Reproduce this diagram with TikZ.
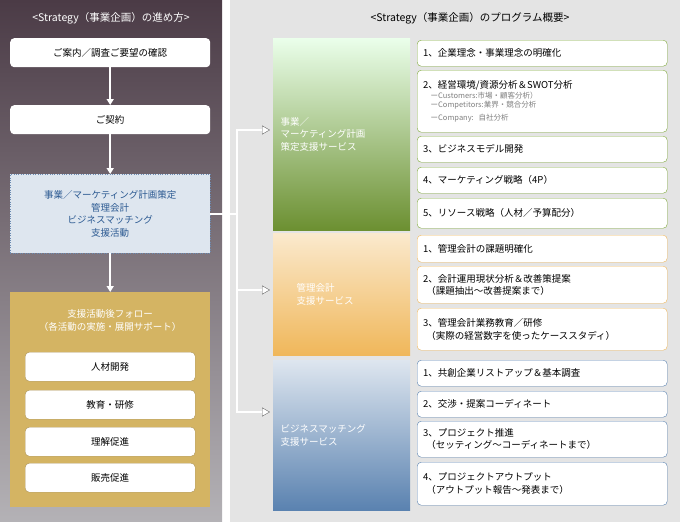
\documentclass[tikz,border=0pt]{standalone}
\usepackage{fontspec}
\setmainfont{Noto Sans CJK JP}
\usetikzlibrary{arrows.meta,shadings}
\definecolor{panelTop}{HTML}{4B3B46}
\definecolor{panelBot}{HTML}{B4B2B6}
\definecolor{greyBg}{HTML}{E4E4E4}
\definecolor{blueTxt}{HTML}{2C5A92}
\definecolor{blueFill}{HTML}{DEE6EF}
\definecolor{goldFill}{HTML}{D4B463}
\definecolor{greenLine}{HTML}{7FA93A}
\definecolor{orangeLine}{HTML}{F0B75A}
\definecolor{blueLine}{HTML}{5A82B0}
\tikzset{%
  >={Latex[width=2mm,length=2mm]},
  % Specifications for style of nodes:
  base/.style = {
    rectangle,
    rounded corners=4pt,
    text centered,
    font=\fontsize{9.5}{12.5}\selectfont
  },
  stepbox/.style = {base, fill=white, minimum width=200pt, minimum height=29pt, anchor=north west},
  followbox/.style = {base, fill=white, draw=goldFill!80!black, minimum width=170pt, minimum height=29pt, anchor=north west},
  item/.style = {base, fill=white, align=left, text width=238pt, minimum width=250pt, anchor=north west, inner xsep=6pt},
  greenItem/.style = {item, draw=greenLine},
  orangeItem/.style = {item, draw=orangeLine},
  blueItem/.style = {item, draw=blueLine},
  category/.style = {rectangle, minimum width=137pt, anchor=north west, text=white, align=left,
    text width=122pt, font=\fontsize{9.5}{12.5}\selectfont},
  downArrow/.style = {white, line width=1.5pt, -{Triangle[width=7pt,length=6pt]}},
}
\begin{document}
\begin{tikzpicture}[x=1pt, y=-1pt]
  % backgrounds
  \fill[top color=panelTop, bottom color=panelBot] (0,0) rectangle (222,522);
  \fill[greyBg] (230,0) rectangle (680,522);
  \useasboundingbox (0,0) rectangle (680,522);
  % titles
  \node (leftTitle) [text=white, font=\fontsize{10.5}{12}\selectfont] at (111,18) {<Strategy（事業企画）の進め方>};
  \node (rightTitle) [font=\fontsize{10.5}{12}\selectfont] at (470,18) {<Strategy（事業企画）のプログラム概要>};
  % process steps
  \node (confirm) [stepbox] at (10,38) {ご案内／調査ご要望の確認};
  \node (contract) [stepbox] at (10,105) {ご契約};
  \node (support) [stepbox, rounded corners=0pt, fill=blueFill, draw=blueTxt!70, dotted,
    minimum height=79pt, text=blueTxt, align=center] at (10,174)
    {事業／マーケティング計画策定\\管理会計\\ビジネスマッチング\\支援活動};
  \node (follow) [rectangle, fill=goldFill, minimum width=200pt, minimum height=215pt, anchor=north west] at (10,292) {};
  \node (followTitle) [text=white, align=center, font=\fontsize{9.5}{13}\selectfont] at (110,320)
    {支援活動後フォロー\\（各活動の実施・展開サポート）};
  \node (hr) [followbox] at (25,352) {人材開発};
  \node (edu) [followbox] at (25,390) {教育・研修};
  \node (promo) [followbox] at (25,427) {理解促進};
  \node (sales) [followbox] at (25,463) {販売促進};
  \draw[downArrow] (confirm) -- (contract);
  \draw[downArrow] (contract) -- (support);
  \draw[downArrow] (support) -- (follow);
  % categories
  \fill[top color=green!8!white, bottom color=greenLine!85!black] (273,38) rectangle (410,230);
  \node (bizCat) [category, minimum height=192pt] at (273,38) {事業／\\マーケティング計画\\策定支援サービス};
  \fill[top color=orangeLine!30!white, bottom color=orangeLine] (273,233) rectangle (410,355);
  \node (accCat) [category, minimum height=122pt] at (273,233) {\hspace*{16pt}管理会計\\\hspace*{16pt}支援サービス};
  \fill[top color=blueLine!20!white, bottom color=blueLine] (273,360) rectangle (410,510);
  \node (matchCat) [category, minimum height=150pt] at (273,360) {ビジネスマッチング\\支援サービス};
  % business items
  \node (b1) [greenItem, minimum height=26pt] at (417,40) {1、企業理念・事業理念の明確化};
  \node (b2) [greenItem, minimum height=62pt] at (417,70) {2、経営環境/資源分析＆SWOT分析\\
    {\fontsize{7.5}{9.5}\selectfont\color{gray}\quad ーCustomers:市場・顧客分析）\\
    \quad ーCompetitors:業界・競合分析\\\quad ーCompany: 自社分析}};
  \node (b3) [greenItem, minimum height=26pt] at (417,136) {3、ビジネスモデル開発};
  \node (b4) [greenItem, minimum height=26pt] at (417,167) {4、マーケティング戦略（4P）};
  \node (b5) [greenItem, minimum height=30pt] at (417,198) {5、リソース戦略（人材／予算配分）};
  % accounting items
  \node (a1) [orangeItem, minimum height=27pt] at (417,235) {1、管理会計の課題明確化};
  \node (a2) [orangeItem, minimum height=37pt] at (417,266) {2、会計運用現状分析＆改善策提案\\\ （課題抽出～改善提案まで）};
  \node (a3) [orangeItem, minimum height=42pt] at (417,308) {3、管理会計業務教育／研修\\\ （実際の経営数字を使ったケーススタディ）};
  % matching items
  \node (m1) [blueItem, minimum height=26pt] at (417,360) {1、共創企業リストアップ＆基本調査};
  \node (m2) [blueItem, minimum height=26pt] at (417,391) {2、交渉・提案コーディネート};
  \node (m3) [blueItem, minimum height=36pt] at (417,421) {3、プロジェクト推進\\\ （セッティング～コーディネートまで）};
  \node (m4) [blueItem, minimum height=43pt] at (417,462) {4、プロジェクトアウトプット\\\ （アウトプット報告～発表まで）};
  % connectors
  \coordinate (junction) at (237,214);
  \coordinate (toBiz) at (270,130);
  \coordinate (toAcc) at (270,290);
  \coordinate (toMatch) at (270,412);
  \foreach \target in {toBiz,toAcc,toMatch}
    \draw[black!60, double=white, double distance=1.8pt, -{Triangle[open,fill=white,width=9pt,length=8pt]}]
      (support.east |- junction) -- (junction) |- (\target);
\end{tikzpicture}
\end{document}
